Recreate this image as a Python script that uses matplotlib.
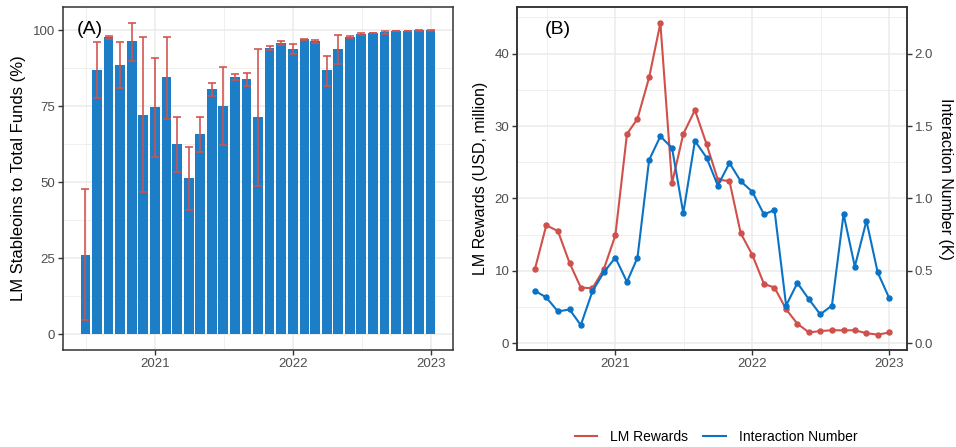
import matplotlib
matplotlib.use("Agg")
import matplotlib.pyplot as plt
import matplotlib.dates as mdates
from matplotlib.lines import Line2D
from matplotlib.ticker import FixedLocator, FormatStrFormatter
import numpy as np
import pandas as pd

plt.rcParams['font.family'] = ['Liberation Sans', 'DejaVu Sans']

# Panel A: monthly share of stablecoins in LM funds (%)
months_a = pd.date_range("2020-07-01", "2023-01-01", freq="MS")
share = [26.2, 86.9, 97.7, 88.5, 96.4, 72.1, 74.8, 84.7, 62.5, 51.5, 65.9, 80.7, 75.1,
         84.6, 83.9, 71.5, 94.1, 95.7, 93.8, 97.0, 96.4, 86.9, 93.8, 97.7, 98.7, 99.0,
         99.3, 99.7, 99.7, 99.9, 99.9]
share_lo = [4.6, 77.7, 97.2, 81.0, 89.8, 46.8, 58.4, 70.9, 53.3, 41.0, 60.0, 78.4, 62.2,
            83.5, 81.7, 48.9, 93.4, 95.1, 92.0, 96.8, 95.7, 81.6, 88.9, 97.3, 98.3, 98.9,
            98.8, 99.6, 99.6, 99.8, 99.8]
share_hi = [47.9, 96.2, 98.2, 96.2, 102.5, 97.6, 90.9, 97.8, 71.4, 61.7, 71.4, 82.5, 87.9,
            85.6, 85.9, 93.9, 94.9, 96.5, 95.3, 97.2, 96.8, 91.6, 98.4, 98.1, 99.2, 99.2,
            99.7, 99.8, 99.8, 100.0, 100.0]

# Panel B: LM rewards (USD million) and interactions (thousands)
months_b = pd.date_range("2020-06-01", "2023-01-01", freq="MS")
rewards = [10.3, 16.3, 15.5, 11.1, 7.7, 7.6, 10.2, 14.9, 28.9, 31.0, 36.7, 44.2, 22.1,
           28.9, 32.2, 27.5, 22.6, 22.4, 15.2, 12.2, 8.2, 7.7, 4.7, 2.7, 1.5, 1.7, 1.8,
           1.8, 1.8, 1.4, 1.2, 1.5]
interactions = [0.362, 0.317, 0.220, 0.234, 0.126, 0.360, 0.489, 0.592, 0.424, 0.592,
                1.266, 1.429, 1.349, 0.899, 1.397, 1.282, 1.089, 1.245, 1.119, 1.046,
                0.890, 0.920, 0.261, 0.417, 0.303, 0.200, 0.261, 0.892, 0.530, 0.846,
                0.489, 0.310]

bar_col = '#1b7ec6'
err_col = '#d2524d'
red = '#d0504b'
blue = '#0a73c6'
grid_col = '#ebebeb'
dark = '#333333'
tick_col = '#4d4d4d'

fig = plt.figure(figsize=(9.56, 4.47), dpi=100)
W, H = 956, 447


def px_axes(x0, y0, x1, y1):
    return fig.add_axes([x0 / W, 1 - y1 / H, (x1 - x0) / W, (y1 - y0) / H])


def style(ax, xmin, xmax, yminor):
    ax.set_facecolor('white')
    ax.xaxis.set_major_locator(mdates.YearLocator())
    ax.xaxis.set_major_formatter(mdates.DateFormatter('%Y'))
    ax.xaxis.set_minor_locator(mdates.MonthLocator(bymonth=7, bymonthday=2))
    ax.yaxis.set_minor_locator(FixedLocator(yminor))
    ax.grid(which='major', color=grid_col, lw=1.1)
    ax.grid(which='minor', color=grid_col, lw=0.55)
    ax.set_axisbelow(True)
    ax.set_xlim(mdates.date2num(pd.Timestamp(xmin)), mdates.date2num(pd.Timestamp(xmax)))
    for s in ax.spines.values():
        s.set_color(dark)
        s.set_linewidth(1.1)
    ax.tick_params(which='major', length=3.5, width=1.0, color=dark,
                   labelcolor=tick_col, labelsize=9.5, pad=2)
    ax.tick_params(which='minor', length=0)


# ---- Panel A
ax1 = px_axes(63, 7, 453, 350)
xa = mdates.date2num(months_a)
ax1.bar(xa, share, width=0.9 * 28, color=bar_col, zorder=2)
share = np.array(share)
ax1.errorbar(xa, share, yerr=[share - np.array(share_lo), np.array(share_hi) - share],
             fmt='none', ecolor=err_col, elinewidth=1.3, capsize=3, capthick=1.3,
             alpha=0.9, zorder=3)
style(ax1, "2020-05-03", "2023-03-01", [12.5, 37.5, 62.5, 87.5])
ax1.set_ylim(-5.16, 107.6)
ax1.set_yticks([0, 25, 50, 75, 100])
ax1.set_ylabel('LM Stableoins to Total Funds (%)', fontsize=12, labelpad=5)
ax1.text(0.035, 0.96, '(A)', transform=ax1.transAxes, fontsize=14, va='top', ha='left')

# ---- Panel B
ax2 = px_axes(517, 7, 907, 350)
xb = mdates.date2num(months_b)
style(ax2, "2020-04-14", "2023-02-17", [5, 15, 25, 35, 45])
ax2.plot(xb, rewards, color=red, lw=1.5, marker='o', ms=3.6, zorder=3)
ax2.set_ylim(-0.92, 46.43)
ax2.set_yticks([0, 10, 20, 30, 40])
ax2.set_ylabel('LM Rewards (USD, million)', fontsize=11.5, labelpad=5)
ax2.text(0.07, 0.96, '(B)', transform=ax2.transAxes, fontsize=14, va='top', ha='left')

ax3 = ax2.twinx()
ax3.plot(xb, interactions, color=blue, lw=1.5, marker='o', ms=3.6, zorder=3)
ax3.set_ylim(-0.92 / 20, 46.43 / 20)
ax3.set_yticks([0.0, 0.5, 1.0, 1.5, 2.0])
ax3.yaxis.set_major_formatter(FormatStrFormatter('%.1f'))
ax3.tick_params(length=3.5, width=1.0, color=dark, labelcolor=tick_col, labelsize=9.5, pad=2)
for s in ax3.spines.values():
    s.set_color(dark)
    s.set_linewidth(1.1)
ax3.set_ylabel('Interaction Number (K)', fontsize=11.5, rotation=270, labelpad=14)

handles = [Line2D([], [], color=red, lw=1.5), Line2D([], [], color=blue, lw=1.5)]
fig.legend(handles, ['LM Rewards', 'Interaction Number'], loc='center',
           bbox_to_anchor=(716 / W, 1 - 437 / H), ncol=2, frameon=False, fontsize=10,
           handlelength=1.6, columnspacing=1.1, handletextpad=0.95)

fig.savefig('out.png', dpi=100, facecolor='white')
